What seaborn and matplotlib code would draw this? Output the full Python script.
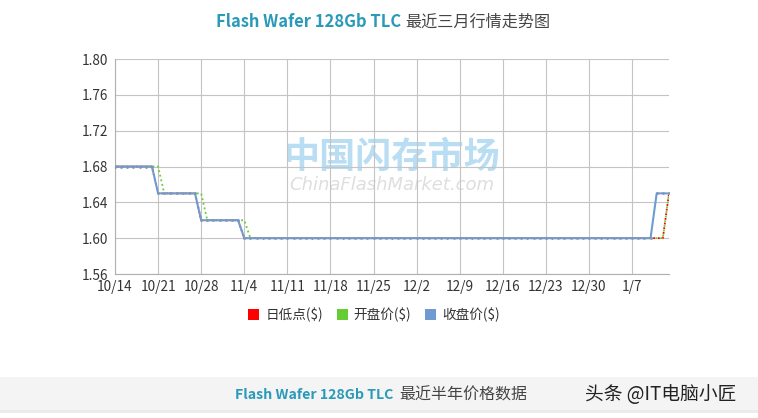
import matplotlib
matplotlib.use("Agg")
import matplotlib.pyplot as plt
from matplotlib.patches import Patch, Rectangle
import seaborn as sns
import pandas as pd
import numpy as np

# ---- data ----
all_days = pd.date_range("2019-10-14", "2020-01-13", freq="D")
dates = [f"{d.month}/{d.day}" for d in all_days if not (d.month == 1 and d.day == 1)]

close_vals = [1.68] * 7 + [1.65] * 7 + [1.62] * 7 + [1.60] * 67 + [1.65] * 3
open_vals = [1.68] * 8 + [1.65] * 7 + [1.62] * 7 + [1.60] * 68 + [1.65] * 1
low_vals = [1.68] * 7 + [1.65] * 7 + [1.62] * 7 + [1.60] * 69 + [1.65] * 1

series_names = ["日低点($)", "开盘价($)", "收盘价($)"]
series_colors = ["#ff0000", "#66cc33", "#6f9bd0"]
y_ticks = [1.56, 1.60, 1.64, 1.68, 1.72, 1.76, 1.80]

df = pd.DataFrame({"idx": np.arange(len(dates)), "date": dates,
                   "low": low_vals, "open": open_vals, "close": close_vals})

sns.set_theme(style="white")
plt.rcParams["font.family"] = ["Noto Sans CJK SC", "DejaVu Sans"]

W, H = 758, 418
fig = plt.figure(figsize=(W / 100, H / 100), dpi=100)
ax = fig.add_axes([115 / W, 1 - 274 / H, (669 - 115) / W, (274 - 59) / H])

# watermark
ax.text(0.5, 0.54, "中国闪存市场", transform=ax.transAxes, ha="center", va="center",
        fontsize=26, color="#b9ddf3", fontweight="bold", zorder=0)
ax.text(0.5, 0.415, "ChinaFlashMarket.com", transform=ax.transAxes, ha="center", va="center",
        fontsize=13, color="#dedede", style="italic", zorder=0,
        family=["DejaVu Sans"])

sns.lineplot(data=df, x="idx", y="low", ax=ax, color=series_colors[0],
             linestyle=(1.3, (1, 1.6)), linewidth=1.3, zorder=3)
sns.lineplot(data=df, x="idx", y="open", ax=ax, color=series_colors[1],
             linestyle=(0, (1, 1.6)), linewidth=1.3, zorder=4)
sns.lineplot(data=df, x="idx", y="close", ax=ax, color=series_colors[2],
             linewidth=1.5, marker="o", markersize=2, markeredgewidth=0,
             markerfacecolor="#8096bb", zorder=5)

ax.set_xlim(0, len(dates) - 1)
ax.set_ylim(1.56, 1.80)
ax.set_yticks(y_ticks)
ax.set_yticklabels([f"{v:.2f}" for v in y_ticks])
xt = list(range(0, len(dates), 7))
ax.set_xticks(xt)
ax.set_xticklabels([dates[i] for i in xt])
ax.set_xlabel("")
ax.set_ylabel("")
ax.grid(True, color="#c4c4c4", linewidth=0.8)
ax.set_axisbelow(True)
for s in ["top", "right"]:
    ax.spines[s].set_visible(False)
for s in ["left", "bottom"]:
    ax.spines[s].set_color("#b0b0b0")
    ax.spines[s].set_linewidth(0.8)
ax.tick_params(axis="both", length=4, width=0.8, color="#b0b0b0",
               labelsize=9.8, labelcolor="#333333", pad=1)
ax.tick_params(axis="x", length=0, pad=4)

# title
fig.text(401 / W, 1 - 22 / H, "Flash Wafer 128Gb TLC", ha="right", va="center",
         fontsize=11.9, fontweight="bold", color="#2a9ab8")
fig.text(405 / W, 1 - 22 / H, "最近三月行情走势图", ha="left", va="center",
         fontsize=11.6, color="#444444")

# legend
handles = [Patch(facecolor=c, edgecolor="none") for c in series_colors]
leg = fig.legend(handles, series_names, loc="center", bbox_to_anchor=(374 / W, 1 - 315 / H),
                 ncol=3, frameon=False, fontsize=9.8, handlelength=0.8, handleheight=0.8,
                 handletextpad=0.45, columnspacing=1.0)
for t in leg.get_texts():
    t.set_color("#333333")

# bottom band
fig.patches.append(Rectangle((0, 1 - 410 / H), 1, 33 / H, transform=fig.transFigure,
                             facecolor="#f4f4f4", edgecolor="none", zorder=0))
fig.patches.append(Rectangle((0, 1 - 413 / H), 1, 3 / H, transform=fig.transFigure,
                             facecolor="#ebebeb", edgecolor="none", zorder=0))
fig.text(393 / W, 1 - 395 / H, "Flash Wafer 128Gb TLC", ha="right", va="center",
         fontsize=10.2, fontweight="bold", color="#2a9ab8")
fig.text(399 / W, 1 - 395 / H, "最近半年价格数据", ha="left", va="center",
         fontsize=11.5, color="#444444")
fig.text(585 / W, 1 - 395 / H, "头条 @IT电脑小匠", ha="left", va="center",
         fontsize=13.5, color="#222222")

fig.savefig("out.png", dpi=100)
